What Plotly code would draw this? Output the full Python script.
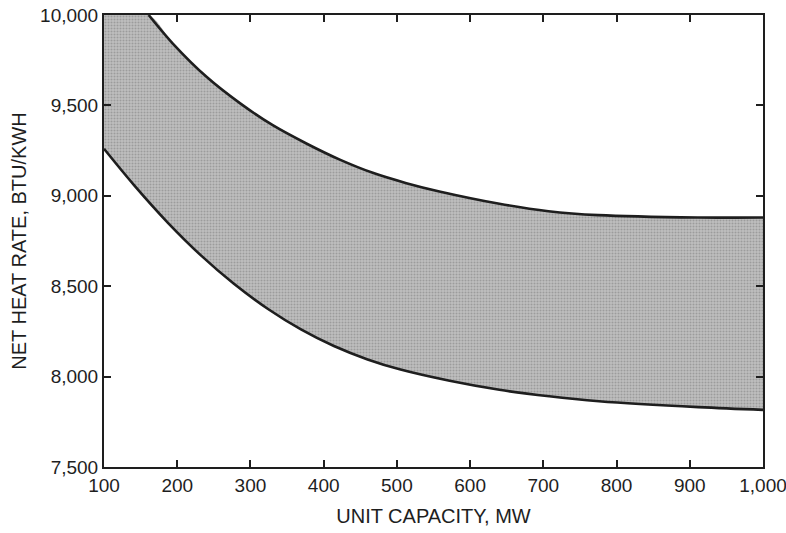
import plotly.graph_objects as go

# Upper and lower bounds of the net heat rate band (BTU/kWh) versus unit size (MW)
capacity_upper = [161, 194, 240, 286, 331, 377, 422, 467, 513, 558, 640, 707, 775, 911, 1000]
heat_rate_upper = [10000, 9842, 9658, 9511, 9389, 9288, 9200, 9127, 9070, 9024, 8956, 8915, 8893, 8880, 8880]

capacity_lower = [100, 141, 187, 232, 277, 324, 369, 414, 460, 505, 572, 640, 708, 776, 912, 1000]
heat_rate_lower = [9260, 9059, 8852, 8672, 8515, 8374, 8261, 8169, 8095, 8039, 7977, 7927, 7891, 7864, 7831, 7816]

x_range = [100, 1000]
y_range = [7500, 10000]
x_ticks = [100, 200, 300, 400, 500, 600, 700, 800, 900, 1000]
x_tick_labels = ["100", "200", "300", "400", "500", "600", "700", "800", "900", "1,000"]
y_ticks = [7500, 8000, 8500, 9000, 9500, 10000]
y_tick_labels = ["7,500", "8,000", "8,500", "9,000", "9,500", "10,000"]

FONT = "Liberation Sans, Arial, Helvetica, sans-serif"
INK = "#1e1e1e"
LINE = dict(color=INK, width=2.6, shape="spline")

fig = go.Figure()

# lower boundary of the band
fig.add_trace(go.Scatter(
    x=capacity_lower, y=heat_rate_lower,
    mode="lines", line=LINE,
    hoverinfo="skip", showlegend=False,
))

# shaded band: upper edge runs from the top-left corner of the frame along the upper curve
fig.add_trace(go.Scatter(
    x=[x_range[0]] + capacity_upper,
    y=[y_range[1]] + heat_rate_upper,
    mode="lines",
    line=dict(width=0, shape="spline"),
    fill="tonexty",
    fillcolor="#bdbdbd",
    fillpattern=dict(shape=".", size=3, solidity=0.4,
                     fgcolor="#787878", bgcolor="#c0c0c0"),
    hoverinfo="skip", showlegend=False,
))

# upper boundary line
fig.add_trace(go.Scatter(
    x=capacity_upper, y=heat_rate_upper,
    mode="lines", line=LINE,
    hoverinfo="skip", showlegend=False,
))

axis_common = dict(
    showline=True, linecolor=INK, linewidth=2, mirror="ticks",
    ticks="inside", ticklen=7, tickwidth=1.5, tickcolor=INK,
    showgrid=False, zeroline=False, ticklabeloverflow="allow",
    tickfont=dict(family=FONT, size=19, color=INK),
)

fig.update_xaxes(
    range=x_range, tickvals=x_ticks, ticktext=x_tick_labels,
    title=dict(text="UNIT CAPACITY, MW", font=dict(family=FONT, size=20, color=INK), standoff=14),
    **axis_common,
)
fig.update_yaxes(
    range=y_range, tickvals=y_ticks, ticktext=y_tick_labels,
    title=dict(text="NET HEAT RATE, BTU/KWH", font=dict(family=FONT, size=20, color=INK), standoff=8),
    **axis_common,
)

fig.update_layout(
    width=786, height=533,
    margin=dict(l=104, r=23, t=15, b=66, autoexpand=False),
    paper_bgcolor="white", plot_bgcolor="white",
)

fig.write_html("out.html")
